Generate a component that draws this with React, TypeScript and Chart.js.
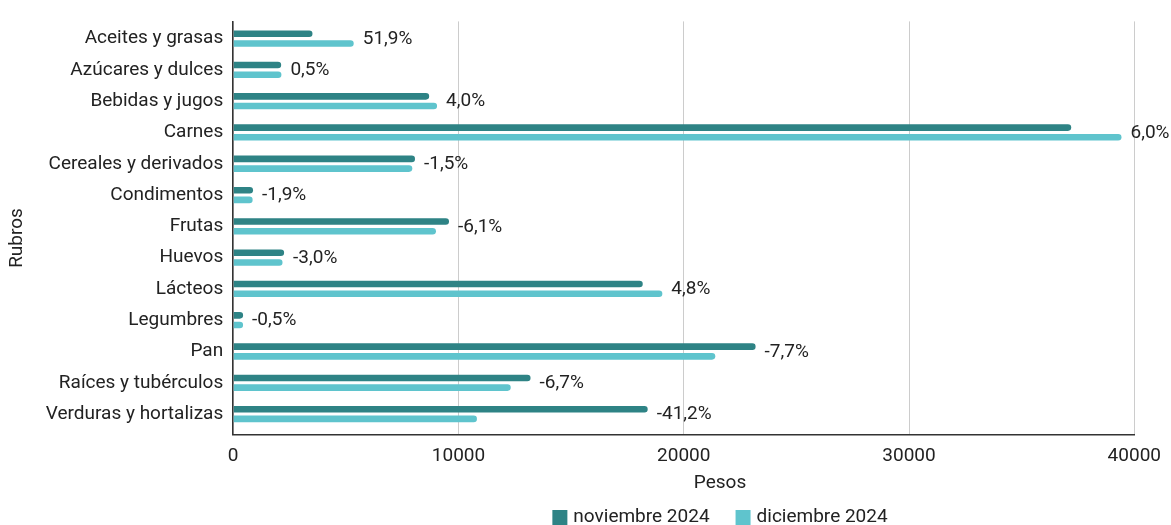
import React, { useEffect, useRef } from "react";
import { Chart, registerables } from "chart.js";

Chart.register(...registerables);

const categories = [
  "Aceites y grasas",
  "Azúcares y dulces",
  "Bebidas y jugos",
  "Carnes",
  "Cereales y derivados",
  "Condimentos",
  "Frutas",
  "Huevos",
  "Lácteos",
  "Legumbres",
  "Pan",
  "Raíces y tubérculos",
  "Verduras y hortalizas",
];

const noviembre2024 = [3520, 2130, 8700, 37200, 8070, 880, 9580, 2260, 18180, 440, 23190, 13200, 18400];
const diciembre2024 = [5350, 2140, 9050, 39430, 7950, 863, 9000, 2190, 19050, 438, 21400, 12320, 10820];
const changeLabels = ["51,9%", "0,5%", "4,0%", "6,0%", "-1,5%", "-1,9%", "-6,1%", "-3,0%", "4,8%", "-0,5%", "-7,7%", "-6,7%", "-41,2%"];
const xTicks = [0, 10000, 20000, 30000, 40000];
const xTitle = "Pesos";
const yTitle = "Rubros";

const FONT = "Roboto, 'Noto Sans', sans-serif";
const FS = 19;
const TEXT = "#222";

const labelPlugin = {
  id: "changeLabels",
  afterDatasetsDraw(chart: any) {
    const { ctx } = chart;
    const x = chart.scales.x;
    const y = chart.scales.y;
    ctx.save();
    ctx.font = `${FS}px ${FONT}`;
    ctx.fillStyle = TEXT;
    ctx.textAlign = "left";
    ctx.textBaseline = "middle";
    categories.forEach((_, i) => {
      const v = Math.max(noviembre2024[i], diciembre2024[i]);
      const px = x.getPixelForValue(v) + 9;
      const py = y.getPixelForValue(i) + 0.5;
      ctx.fillText(changeLabels[i], px, py);
    });
    ctx.restore();
  },
};

const titlesPlugin = {
  id: "axisTitles",
  afterDraw(chart: any) {
    const { ctx } = chart;
    const x = chart.scales.x;
    const y = chart.scales.y;
    ctx.save();
    ctx.font = `${FS}px ${FONT}`;
    ctx.fillStyle = TEXT;
    ctx.textAlign = "center";
    ctx.textBaseline = "middle";
    ctx.fillText(xTitle, 720, x.bottom - 11.4 - 6);
    ctx.translate(y.left + 11.4 + 2, 238);
    ctx.rotate(-Math.PI / 2);
    ctx.fillText(yTitle, 0, 0);
    ctx.restore();
  },
};

const legendPlugin = {
  id: "customLegend",
  afterDraw(chart: any) {
    const { ctx } = chart;
    const items = chart.data.datasets.map((d: any) => ({ text: d.label, color: d.backgroundColor }));
    const box = 15;
    const gapText = 6;
    const gapItem = 26;
    ctx.save();
    ctx.font = `${FS}px ${FONT}`;
    const widths = items.map((it: any) => ctx.measureText(it.text).width);
    const total = widths.reduce((a: number, w: number) => a + box + gapText + w, 0) + gapItem * (items.length - 1);
    const centerX = 720;
    const cy = 517.5;
    let x = centerX - total / 2;
    ctx.textAlign = "left";
    ctx.textBaseline = "middle";
    items.forEach((it: any, i: number) => {
      ctx.fillStyle = it.color;
      ctx.fillRect(x, cy - box / 2, box, box);
      x += box + gapText;
      ctx.fillStyle = TEXT;
      ctx.fillText(it.text, x, cy);
      x += widths[i] + gapItem;
    });
    ctx.restore();
  },
};

export default function App() {
  const ref = useRef<HTMLCanvasElement>(null);
  useEffect(() => {
    if (!ref.current) return;
    const chart = new Chart(ref.current, {
      type: "bar",
      data: {
        labels: categories,
        datasets: [
          {
            label: "noviembre 2024",
            data: noviembre2024.map((v, i) => ({ x: v, y: i })),
            backgroundColor: "#2e8385",
            borderRadius: 4,
            borderSkipped: "start",
            categoryPercentage: 0.62,
            barPercentage: 0.68,
          },
          {
            label: "diciembre 2024",
            data: diciembre2024.map((v, i) => ({ x: v, y: i })),
            backgroundColor: "#5fc4cd",
            borderRadius: 4,
            borderSkipped: "start",
            categoryPercentage: 0.62,
            barPercentage: 0.68,
          },
        ],
      },
      options: {
        indexAxis: "y",
        animation: false,
        responsive: true,
        maintainAspectRatio: false,
        layout: { padding: { top: 12, right: 36, left: 4, bottom: 24 } },
        plugins: {
          legend: { display: false },
          tooltip: { enabled: false },
        },
        scales: {
          x: {
            type: "linear",
            min: 0,
            max: 40000,
            afterBuildTicks: (axis: any) => {
              axis.ticks = xTicks.map((v) => ({ value: v }));
            },
            grid: { color: "#cccccc", drawTicks: false, lineWidth: 1 },
            border: { display: true, color: "#333", width: 1.5 },
            ticks: {
              color: TEXT,
              padding: 10,
              font: { family: FONT, size: FS },
              callback: (v: any) => String(v),
            },
            title: {
              display: true,
              text: xTitle,
              color: "rgba(0,0,0,0)",
              font: { family: FONT, size: FS },
              padding: { top: -5, bottom: 6 },
            },
          },
          y: {
            type: "linear",
            reverse: true,
            offset: false,
            min: -0.55,
            max: 12.65,
            afterBuildTicks: (axis: any) => {
              axis.ticks = categories.map((_, i) => ({ value: i }));
            },
            grid: { display: false, drawTicks: false, offset: false },
            border: { display: true, color: "#333", width: 1.5 },
            ticks: {
              color: TEXT,
              padding: 10,
              font: { family: FONT, size: FS },
              autoSkip: false,
              callback: (v: any) => categories[Math.round(v)] ?? "",
            },
            title: {
              display: true,
              text: yTitle,
              color: "rgba(0,0,0,0)",
              font: { family: FONT, size: FS },
              padding: { top: 2, bottom: 7 },
            },
          },
        },
      },
      plugins: [labelPlugin, titlesPlugin, legendPlugin],
    });
    return () => chart.destroy();
  }, []);
  return (
    <div style={{ position: "fixed", left: 0, top: 0, width: 1171, height: 525, overflow: "hidden", background: "#fff" }}>
      <div style={{ position: "relative", width: 1171, height: 525 }}>
        <canvas ref={ref} />
      </div>
    </div>
  );
}
